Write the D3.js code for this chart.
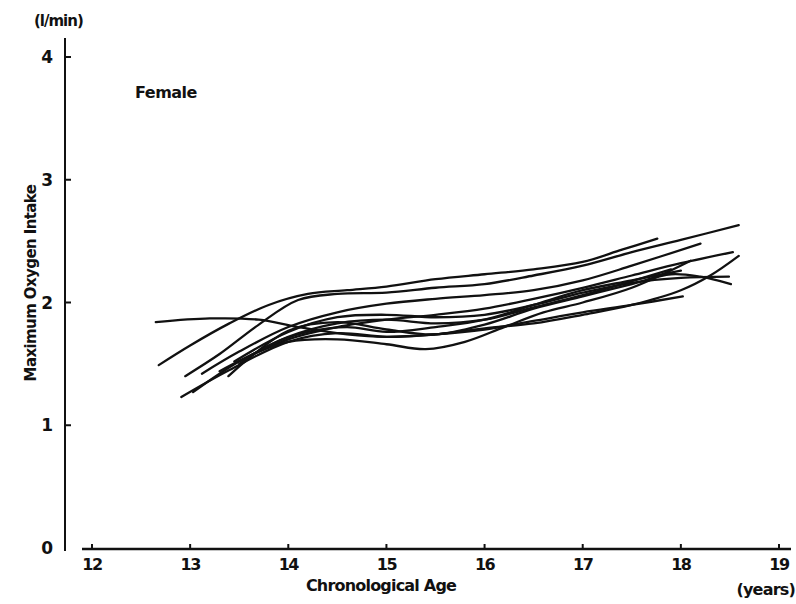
<!DOCTYPE html>
<html><head><meta charset="utf-8">
<script src="https://cdn.jsdelivr.net/npm/d3@7"></script>
<style>body{margin:0;background:#fff}svg text{font-family:"DejaVu Sans",sans-serif;font-weight:bold;fill:#111}</style>
</head><body><svg id="c" width="796" height="604"></svg>
<script>
const xTicks = [12,13,14,15,16,17,18,19];
const yTicks = [0,1,2,3,4];
const s1  = [[12.68,1.49],[13.0,1.65],[13.4,1.83],[13.8,1.98],[14.2,2.07],[14.6,2.1],[15.0,2.13],[15.5,2.19],[16.0,2.23],[16.5,2.27],[17.0,2.33],[17.4,2.43],[17.76,2.52]];
const s2  = [[12.95,1.40],[13.3,1.58],[13.7,1.82],[14.1,2.02],[14.5,2.07],[15.0,2.08],[15.5,2.12],[16.0,2.15],[16.5,2.22],[17.0,2.3],[17.5,2.41],[18.0,2.51],[18.59,2.63]];
const s3  = [[13.12,1.42],[13.5,1.6],[14.0,1.8],[14.5,1.92],[15.0,1.99],[15.5,2.03],[16.0,2.06],[16.5,2.1],[17.0,2.18],[17.5,2.3],[18.2,2.48]];
const s4  = [[13.03,1.27],[13.5,1.52],[14.0,1.7],[14.5,1.8],[15.0,1.86],[15.5,1.9],[16.0,1.95],[16.5,2.03],[17.0,2.12],[17.5,2.22],[18.0,2.32],[18.53,2.41]];
const s5  = [[12.91,1.23],[13.4,1.45],[14.0,1.68],[14.5,1.75],[15.0,1.72],[15.5,1.74],[16.0,1.79],[16.5,1.83],[17.0,1.9],[17.5,1.98],[18.0,2.1],[18.3,2.22],[18.59,2.38]];
const s6  = [[13.45,1.52],[14.0,1.76],[14.5,1.88],[15.0,1.9],[15.5,1.88],[16.0,1.9],[16.5,1.98],[17.0,2.08],[17.5,2.16],[18.0,2.2],[18.49,2.21]];
const s7  = [[13.39,1.40],[14.0,1.77],[14.5,1.84],[15.0,1.78],[15.5,1.74],[16.0,1.82],[16.5,1.95],[17.0,2.05],[17.5,2.15],[17.9,2.23],[18.2,2.21],[18.51,2.15]];
const s8  = [[12.65,1.84],[13.2,1.87],[13.7,1.86],[14.1,1.8],[14.6,1.74],[15.0,1.72],[15.5,1.74],[16.0,1.78],[16.5,1.85],[17.0,1.92],[17.5,1.98],[18.02,2.05]];
const s9  = [[13.3,1.44],[13.7,1.6],[14.0,1.68],[14.5,1.7],[15.0,1.66],[15.4,1.62],[15.8,1.68],[16.2,1.8],[16.6,1.92],[17.0,2.0],[17.5,2.12],[18.1,2.34]];
const s10 = [[13.5,1.5],[13.8,1.65],[14.2,1.76],[14.6,1.8],[15.0,1.76],[15.5,1.8],[16.0,1.86],[16.5,1.98],[17.0,2.1],[17.5,2.18],[18.0,2.26]];
const s11 = [[13.6,1.56],[14.0,1.72],[14.5,1.83],[15.0,1.86],[15.5,1.83],[16.0,1.86],[16.5,1.96],[17.0,2.06],[17.4,2.15],[17.9,2.27]];
const series = [s1,s2,s3,s4,s5,s6,s7,s8,s9,s10,s11];

const svg = d3.select("#c");
const x = d3.scaleLinear().domain([12,19]).range([92,779]);
const y = d3.scaleLinear().domain([0,4]).range([548,57]);

// y axis
svg.append("line").attr("x1",65).attr("x2",65).attr("y1",38).attr("y2",551).attr("stroke","#111").attr("stroke-width",2);
const yg = svg.append("g");
yTicks.forEach(t=>{
  if(t>0) yg.append("line").attr("x1",65).attr("x2",71).attr("y1",y(t)).attr("y2",y(t)).attr("stroke","#111").attr("stroke-width",2);
  yg.append("text").attr("x",53).attr("y",y(t)+6).attr("text-anchor","end").attr("font-size",17).text(t);
});
// x axis
svg.append("line").attr("x1",82).attr("x2",791).attr("y1",549).attr("y2",549).attr("stroke","#111").attr("stroke-width",2.5);
xTicks.forEach(t=>{
  svg.append("line").attr("x1",x(t)).attr("x2",x(t)).attr("y1",549).attr("y2",544).attr("stroke","#111").attr("stroke-width",2);
  svg.append("text").attr("x",x(t)).attr("y",570).attr("text-anchor","middle").attr("font-size",16).attr("letter-spacing",-1.5).text(t);
});

const line = d3.line().x(d=>x(d[0])).y(d=>y(d[1])).curve(d3.curveCatmullRom.alpha(0.5));
svg.append("g").selectAll("path").data(series).join("path")
  .attr("d",line).attr("fill","none").attr("stroke","#111").attr("stroke-width",2.3).attr("stroke-linecap","round");

svg.append("text").attr("x",34).attr("y",26).attr("font-size",15).attr("letter-spacing",-1).text("(l/min)");
svg.append("text").attr("x",135).attr("y",98).attr("font-size",16).attr("letter-spacing",-0.5).text("Female");
svg.append("text").attr("transform","translate(36,283) rotate(-90)").attr("text-anchor","middle").attr("font-size",15).attr("letter-spacing",-0.6).text("Maximum Oxygen Intake");
svg.append("text").attr("x",381).attr("y",591).attr("text-anchor","middle").attr("font-size",16).attr("letter-spacing",-0.8).text("Chronological Age");
svg.append("text").attr("x",795).attr("y",595).attr("text-anchor","end").attr("font-size",16).attr("letter-spacing",-0.8).text("(years)");
</script></body></html>
